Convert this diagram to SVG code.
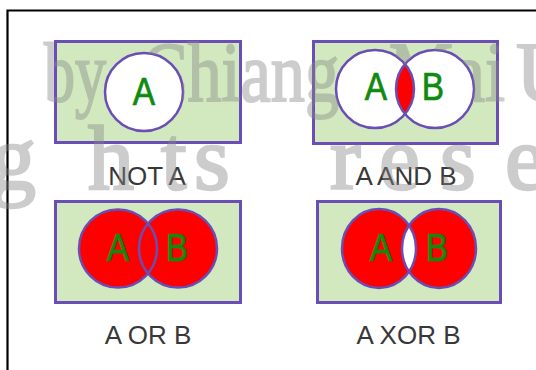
<svg xmlns="http://www.w3.org/2000/svg" width="536" height="370" viewBox="0 0 536 370">
<style>
.panel{fill:#d2e9bf;stroke:#6a4db5;stroke-width:3}
.ring{fill:none;stroke:#6a4db5;stroke-width:2.5}
.white{fill:#ffffff}
.red{fill:#ff0000}
.let{font-family:"Liberation Sans",Arial,sans-serif;font-size:38px;fill:#0e8a0e;stroke:#0e8a0e;stroke-width:0.7;text-anchor:middle}
.lbl{font-family:"Liberation Sans",Arial,sans-serif;font-size:26px;fill:#383838;text-anchor:middle}
.wm{font-family:"Liberation Serif","Times New Roman",serif;fill:#888888;stroke:#888888}
.wm1{font-size:84px;stroke-width:2}
.wm2{font-size:92px;stroke-width:2.5}
</style>
<defs>
<clipPath id="clipAndA"><circle cx="375" cy="89" r="39"/></clipPath>
<clipPath id="clipXorA"><ellipse cx="379" cy="248.5" rx="37" ry="39.5"/></clipPath>
<mask id="wmMask" maskUnits="userSpaceOnUse" x="0" y="0" width="536" height="370">
<rect x="0" y="0" width="536" height="370" fill="#ffffff"/>
<circle cx="144" cy="92" r="39" fill="#000000"/>
<circle cx="375" cy="89" r="39" fill="#000000"/>
<circle cx="435" cy="89" r="39" fill="#000000"/>
</mask>
</defs>
<rect x="0" y="0" width="536" height="370" fill="#ffffff"/>
<path d="M7.5,370 V10.5 H536" fill="none" stroke="#000000" stroke-width="2.2"/>

<g id="not-a">
<rect class="panel" x="55.5" y="41.5" width="185" height="101"/>
<circle class="white" cx="144" cy="92" r="39"/>
<circle class="ring" cx="144" cy="92" r="39"/>
<text class="let" transform="translate(144,105) scale(0.88,1)">A</text>
<text class="lbl" x="147" y="184.5">NOT A</text>
</g>

<g id="a-and-b">
<rect class="panel" x="313.5" y="41.5" width="184" height="102"/>
<circle class="white" cx="375" cy="89" r="39"/>
<circle class="white" cx="435" cy="89" r="39"/>
<circle class="red" cx="435" cy="89" r="39" clip-path="url(#clipAndA)"/>
<circle class="ring" cx="375" cy="89" r="39"/>
<circle class="ring" cx="435" cy="89" r="39"/>
<text class="let" transform="translate(376,100) scale(0.88,1)">A</text>
<text class="let" transform="translate(433,100) scale(0.88,1)">B</text>
<text class="lbl" x="406" y="184.5">A AND B</text>
</g>

<g id="a-or-b">
<rect class="panel" x="55.5" y="201.5" width="185" height="101"/>
<circle class="red" cx="118" cy="248.5" r="39"/>
<circle class="red" cx="178" cy="248.5" r="39"/>
<circle class="ring" cx="118" cy="248.5" r="39"/>
<circle class="ring" cx="178" cy="248.5" r="39"/>
<text class="let" transform="translate(118,261) scale(0.88,1)">A</text>
<text class="let" transform="translate(177,261) scale(0.88,1)">B</text>
<text class="lbl" x="148" y="343.5">A OR B</text>
</g>

<g id="a-xor-b">
<rect class="panel" x="317.5" y="201.5" width="183" height="101"/>
<ellipse class="red" cx="379" cy="248.5" rx="37" ry="39.5"/>
<ellipse class="red" cx="439" cy="248.5" rx="37" ry="39.5"/>
<ellipse class="white" cx="439" cy="248.5" rx="37" ry="39.5" clip-path="url(#clipXorA)"/>
<ellipse class="ring" cx="379" cy="248.5" rx="37" ry="39.5"/>
<ellipse class="ring" cx="439" cy="248.5" rx="37" ry="39.5"/>
<text class="let" transform="translate(381,261) scale(0.88,1)">A</text>
<text class="let" transform="translate(437,261) scale(0.88,1)">B</text>
<text class="lbl" x="408.5" y="343.5">A XOR B</text>
</g>

<g id="watermark" mask="url(#wmMask)" opacity="0.42">
<text class="wm wm1" x="44" y="101" textLength="62" lengthAdjust="spacingAndGlyphs">by</text>
<text class="wm wm1" x="142" y="101" textLength="197" lengthAdjust="spacingAndGlyphs">Chiang</text>
<text class="wm wm1" x="389" y="101" textLength="116" lengthAdjust="spacingAndGlyphs">Mai</text>
<text class="wm wm1" x="516" y="101">U</text>
<text class="wm wm2" y="189"><tspan x="-10">g</tspan><tspan x="88">h</tspan><tspan x="161">t</tspan><tspan x="194">s</tspan><tspan x="330">r</tspan><tspan x="379">e</tspan><tspan x="440">s</tspan><tspan x="505">e</tspan></text>
</g>
</svg>
